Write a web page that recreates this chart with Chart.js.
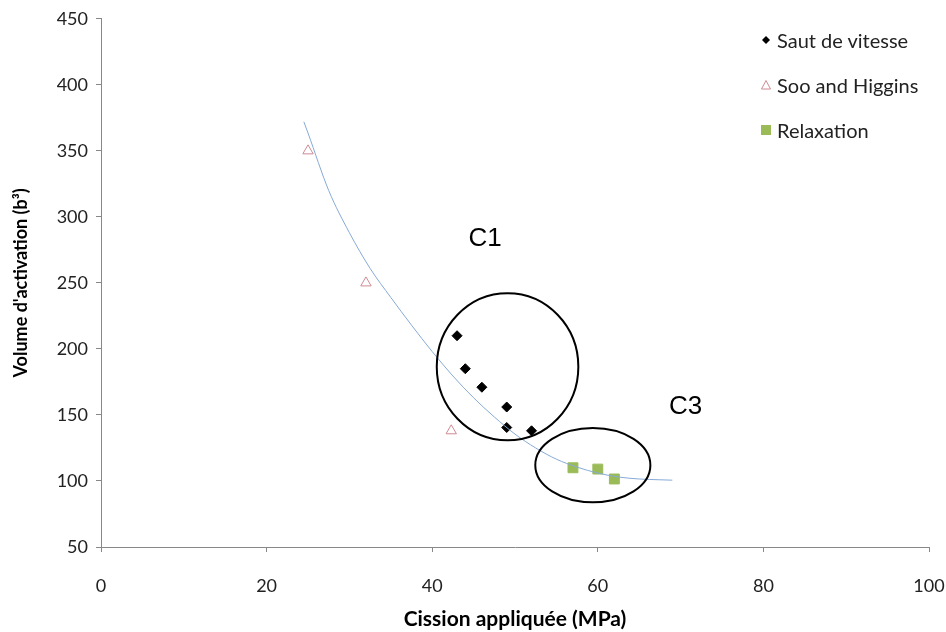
<!DOCTYPE html>
<html>
<head>
<meta charset="utf-8">
<script src="https://cdn.jsdelivr.net/npm/chart.js@4"></script>
<style>
  body { margin: 0; background: #fff; }
  #wrap { position: relative; width: 946px; height: 632px; }
  .legend { position: absolute; left: 758px; top: 26px; font-family: Lato, sans-serif; font-size: 20px; color: #222; }
  .legend div { height: 45px; display: flex; align-items: center; }
  .legend svg { width: 16px; height: 16px; margin-right: 3px; }
</style>
</head>
<body>
<div id="wrap">
  <canvas id="chart" width="946" height="632"></canvas>
  <div class="legend">
    <div style="height:28px"><svg viewBox="0 0 16 16"><path d="M8 4 L12 8 L8 12 L4 8 Z" fill="#000"/></svg>Saut de vitesse</div>
    <div style="height:62px"><svg viewBox="0 0 16 16"><path d="M8 3.5 L12.5 12 L3.5 12 Z" fill="none" stroke="#cf8a95" stroke-width="1"/></svg>Soo and Higgins</div>
    <div style="height:28px"><svg viewBox="0 0 16 16"><rect x="3" y="3" width="10" height="10" fill="#9bbb59"/></svg>Relaxation</div>
  </div>
</div>
<script>
//Saut de vitesse (black diamonds)
const sautX = [43, 44, 46, 49, 49, 52];
const sautY = [210, 185, 171, 156, 140.5, 138];
//Soo and Higgins (open triangles)
const sooX = [25, 32, 42.3];
const sooY = [350, 250, 138];
//Relaxation (green squares)
const relaxX = [57, 60, 62];
const relaxY = [110, 109, 101.5];
//Trend curve
const trendX = [24.5, 25, 27.5, 30, 32.5, 35, 37.5, 40, 42.5, 45, 47.5, 50, 52.5, 55, 57.5, 60, 62.5, 65, 67.5, 69];
const trendY = [372, 363.5, 320, 288, 261, 239, 218, 198, 179.5, 163, 148.5, 135.5, 125, 116.5, 110.5, 106, 103, 101.5, 100.9, 100.6];
//Annotation circles: [cx, cy, rx, ry] in data units
const circles = [
  [49.1, 186.5, 8.55, 55.7],
  [59.4, 112, 6.95, 28.1],
];
const circleLabels = ["C1", "C3"];
const circleLabelX = [46.4, 70.6];
const circleLabelY = [283, 156.5];

function toPoints(xs, ys) {
  return xs.map((x, i) => ({ x: x, y: ys[i] }));
}

//Draw circles and labels on top of the chart
const annotations = {
  id: "annotations",
  afterDatasetsDraw(chart) {
    const ctx = chart.ctx;
    const xs = chart.scales.x;
    const ys = chart.scales.y;
    ctx.save();
    ctx.strokeStyle = "#000";
    ctx.lineWidth = 2;
    circles.forEach((c) => {
      const cx = xs.getPixelForValue(c[0]);
      const cy = ys.getPixelForValue(c[1]);
      const rx = Math.abs(xs.getPixelForValue(c[0] + c[2]) - cx);
      const ry = Math.abs(ys.getPixelForValue(c[1] + c[3]) - cy);
      ctx.beginPath();
      ctx.ellipse(cx, cy, rx, ry, 0, 0, Math.PI * 2);
      ctx.stroke();
    });
    ctx.fillStyle = "#000";
    ctx.font = "26px 'Liberation Sans', Arial, sans-serif";
    ctx.textAlign = "center";
    ctx.textBaseline = "middle";
    circleLabels.forEach((t, i) => {
      ctx.fillText(t, xs.getPixelForValue(circleLabelX[i]), ys.getPixelForValue(circleLabelY[i]));
    });
    ctx.restore();
  },
};

const ctx = document.getElementById("chart").getContext("2d");
new Chart(ctx, {
  type: "scatter",
  data: {
    datasets: [
      {
        label: "Trend",
        data: toPoints(trendX, trendY),
        showLine: true,
        borderColor: "#86aad6",
        borderWidth: 1,
        pointRadius: 0,
        cubicInterpolationMode: "monotone",
      },
      {
        label: "Saut de vitesse",
        data: toPoints(sautX, sautY),
        pointStyle: "rectRot",
        pointRadius: 5,
        backgroundColor: "#000",
        borderColor: "#000",
      },
      {
        label: "Soo and Higgins",
        data: toPoints(sooX, sooY),
        pointStyle: "triangle",
        pointRadius: 6,
        backgroundColor: "rgba(0,0,0,0)",
        borderColor: "#cf8a95",
        borderWidth: 1,
      },
      {
        label: "Relaxation",
        data: toPoints(relaxX, relaxY),
        pointStyle: "rect",
        pointRadius: 7,
        backgroundColor: "#9bbb59",
        borderColor: "#9bbb59",
      },
    ],
  },
  options: {
    responsive: false,
    animation: false,
    layout: { padding: { top: 17, right: 17, left: 0, bottom: 0 } },
    plugins: {
      legend: { display: false },
      tooltip: { enabled: false },
    },
    scales: {
      x: {
        min: 0,
        max: 100,
        //fixed height, and don't let the tick padding eat the right side
        afterFit: (s) => { s.height = 85; s.paddingLeft = 0; s.paddingRight = 0; },
        ticks: { stepSize: 20, padding: 23, color: "#222", font: { family: "Lato", size: 18 } },
        grid: { drawOnChartArea: false, tickLength: 5, color: "#888" },
        border: { color: "#888" },
        title: {
          display: true,
          text: "Cission appliquée (MPa)",
          color: "#000",
          font: { family: "Lato", size: 21, weight: "bold" },
          padding: { top: 7, bottom: 0 },
        },
      },
      y: {
        min: 50,
        max: 450,
        afterFit: (s) => { s.width = 101; },
        ticks: { stepSize: 50, padding: 8, color: "#222", font: { family: "Lato", size: 18 } },
        grid: { drawOnChartArea: false, tickLength: 5, color: "#888" },
        border: { color: "#888" },
        title: {
          display: true,
          text: "Volume d'activation (b³)",
          color: "#000",
          font: { family: "Lato", size: 18, weight: "bold" },
          padding: { top: 10, bottom: 0 },
        },
      },
    },
  },
  plugins: [annotations],
});
</script>
</body>
</html>
